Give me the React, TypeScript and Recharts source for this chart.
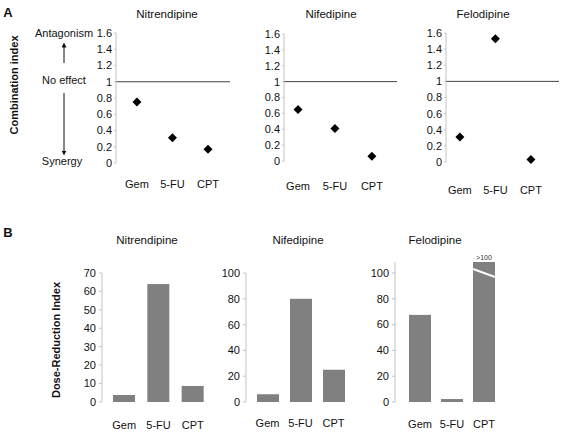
import React from 'react';
import { ScatterChart, Scatter, BarChart, Bar, XAxis, YAxis, ReferenceLine, LabelList } from 'recharts';

// categories + values
const drugs = ['Gem', '5-FU', 'CPT'];
const ciNitrendipine = [0.75, 0.31, 0.17];
const ciNifedipine = [0.65, 0.41, 0.06];
const ciFelodipine = [0.31, 1.53, 0.03];
const driNitrendipine = [3.8, 64, 8.7];
const driNifedipine = [6, 80, 25];
const driFelodipine = [67.5, 2.3, 108.5];
const ciTicks = [0, 0.2, 0.4, 0.6, 0.8, 1, 1.2, 1.4, 1.6];
const dri70Ticks = [0, 10, 20, 30, 40, 50, 60, 70];
const dri100Ticks = [0, 20, 40, 60, 80, 100];

const FONT = '"Liberation Sans", Arial, Helvetica, sans-serif';
const AXW = 40, TOP = 10, XH = 30, BOT = 4, RIGHT = 4;
const tickStyle = { fontSize: 11, fill: '#111', fontFamily: FONT };

type Plot = { x: number; y: number; w: number; h: number };

const box = (p: Plot) => ({
    left: p.x - AXW, top: p.y - TOP,
    width: AXW + p.w + RIGHT, height: TOP + p.h + XH + BOT,
});

const Diamond = (props: any) => {
    const { cx, cy } = props;
    const r = 4.5;
    return <polygon points={`${cx},${cy - r} ${cx + r},${cy} ${cx},${cy + r} ${cx - r},${cy}`} fill="#000" />;
};

const BrokenBar = (props: any) => {
    const { x, y, width, height, value } = props;
    return (
        <g>
            <rect x={x} y={y} width={width} height={height} fill="#808080" />
            {value > 100 && <line x1={x} y1={y + 7} x2={x + width} y2={y + 15} stroke="#fff" strokeWidth={2} />}
        </g>
    );
};

const Title: React.FC<{ x: number; y: number; text: string }> = ({ x, y, text }) => (
    <div style={{ position: 'absolute', left: x, top: y, transform: 'translate(-50%, -50%)', fontSize: 11.5, fontFamily: FONT, color: '#111', whiteSpace: 'nowrap' }}>
        {text}
    </div>
);

const CIChart: React.FC<{ values: number[]; plot: Plot; xDomain: [number, number]; gap: number }> = ({ values, plot, xDomain, gap }) => {
    const b = box(plot);
    const data = values.map((v, i) => ({ i, v }));
    return (
        <div style={{ position: 'absolute', left: b.left, top: b.top }}>
            <ScatterChart width={b.width} height={b.height} margin={{ top: TOP, right: RIGHT, bottom: BOT, left: 0 }}>
                <XAxis type="number" dataKey="i" domain={xDomain} ticks={[0, 1, 2]} interval={0} allowDataOverflow
                    tickFormatter={(i: number) => drugs[i]} axisLine={false} tickLine={false} tickSize={0}
                    tickMargin={gap} height={XH} tick={tickStyle} />
                <YAxis type="number" dataKey="v" domain={[0, 1.6]} ticks={ciTicks} interval={0} width={AXW}
                    axisLine={{ stroke: '#c4c4c4' }} tickLine={{ stroke: '#c4c4c4' }} tickSize={2} tickMargin={2} tick={tickStyle} />
                <ReferenceLine y={1} stroke="#444" />
                <Scatter data={data} shape={Diamond} isAnimationActive={false} />
            </ScatterChart>
        </div>
    );
};

const DRIChart: React.FC<{ values: number[]; plot: Plot; ticks: number[]; domain: any; padLeft: number; gap: number }> = ({ values, plot, ticks, domain, padLeft, gap }) => {
    const b = box(plot);
    const data = values.map((v, i) => ({ drug: drugs[i], v }));
    return (
        <div style={{ position: 'absolute', left: b.left, top: b.top }}>
            <BarChart width={b.width} height={b.height} data={data} margin={{ top: TOP, right: RIGHT, bottom: BOT, left: 0 }}>
                <XAxis dataKey="drug" padding={{ left: padLeft, right: 0 }} axisLine={false} tickLine={false}
                    tickSize={0} tickMargin={gap} height={XH} interval={0} tick={tickStyle} />
                <YAxis type="number" domain={domain} ticks={ticks} interval={0} width={AXW}
                    axisLine={{ stroke: '#c4c4c4' }} tickLine={{ stroke: '#c4c4c4' }} tickSize={3} tickMargin={3} tick={tickStyle} />
                <Bar dataKey="v" barSize={22} fill="#808080" shape={BrokenBar} isAnimationActive={false}>
                    <LabelList dataKey="v" content={(p: any) => p.value > 100 ? (
                        <text x={p.x + p.width / 2} y={p.y - 2} textAnchor="middle" fontSize={7} fill="#333" fontFamily={FONT}>&gt;100</text>
                    ) : null} />
                </Bar>
            </BarChart>
        </div>
    );
};

export default function App() {
    return (
        <div style={{ position: 'absolute', left: 0, top: 0, width: 563, height: 432, overflow: 'hidden', background: '#fff', fontFamily: FONT }}>
            <svg width={563} height={432} style={{ position: 'absolute', left: 0, top: 0 }}>
                <defs>
                    <marker id="ah" viewBox="0 0 6 6" refX="3" refY="3" markerWidth="5" markerHeight="5" orient="auto-start-reverse">
                        <path d="M0,0 L6,3 L0,6 z" fill="#111" />
                    </marker>
                </defs>
                <text x={8} y={12} fontSize={13} fontWeight="bold" fontFamily={FONT} textAnchor="middle" dominantBaseline="central" fill="#111">A</text>
                <text x={8} y={232} fontSize={13} fontWeight="bold" fontFamily={FONT} textAnchor="middle" dominantBaseline="central" fill="#111">B</text>
                <text transform="translate(14,85) rotate(-90)" fontSize={11} fontWeight="bold" fontFamily={FONT} textAnchor="middle" dominantBaseline="central" fill="#111">Combination index</text>
                <text transform="translate(56,340) rotate(-90)" fontSize={11} fontWeight="bold" fontFamily={FONT} textAnchor="middle" dominantBaseline="central" fill="#111">Dose-Reduction Index</text>
                <text x={64} y={33} fontSize={11} fontFamily={FONT} textAnchor="middle" dominantBaseline="central" fill="#111">Antagonism</text>
                <text x={64} y={80} fontSize={11} fontFamily={FONT} textAnchor="middle" dominantBaseline="central" fill="#111">No effect</text>
                <text x={62} y={161} fontSize={11} fontFamily={FONT} textAnchor="middle" dominantBaseline="central" fill="#111">Synergy</text>
                <line x1={64} y1={63} x2={64} y2={45} stroke="#111" strokeWidth={1} markerEnd="url(#ah)" />
                <line x1={64} y1={93} x2={64} y2={153} stroke="#111" strokeWidth={1} markerEnd="url(#ah)" />
            </svg>

            <Title x={167} y={14} text="Nitrendipine" />
            <Title x={331} y={14} text="Nifedipine" />
            <Title x={483} y={14} text="Felodipine" />
            <Title x={147} y={240} text="Nitrendipine" />
            <Title x={298} y={240} text="Nifedipine" />
            <Title x={435} y={240} text="Felodipine" />

            <CIChart values={ciNitrendipine} plot={{ x: 116, y: 33, w: 114, h: 130 }} xDomain={[-0.59, 2.62]} gap={17} />
            <CIChart values={ciNifedipine} plot={{ x: 284, y: 34, w: 113, h: 127 }} xDomain={[-0.38, 2.68]} gap={21} />
            <CIChart values={ciFelodipine} plot={{ x: 446, y: 33, w: 113, h: 129 }} xDomain={[-0.39, 2.79]} gap={24} />

            <DRIChart values={driNitrendipine} plot={{ x: 102, y: 273, w: 108, h: 129 }} ticks={dri70Ticks} domain={[0, 70]} padLeft={5} gap={19} />
            <DRIChart values={driNifedipine} plot={{ x: 246, y: 273, w: 104, h: 129 }} ticks={dri100Ticks} domain={[0, 100]} padLeft={5} gap={17} />
            <DRIChart values={driFelodipine} plot={{ x: 395, y: 262, w: 105, h: 140 }} ticks={dri100Ticks} domain={[0, 'dataMax']} padLeft={9} gap={18} />
        </div>
    );
}
